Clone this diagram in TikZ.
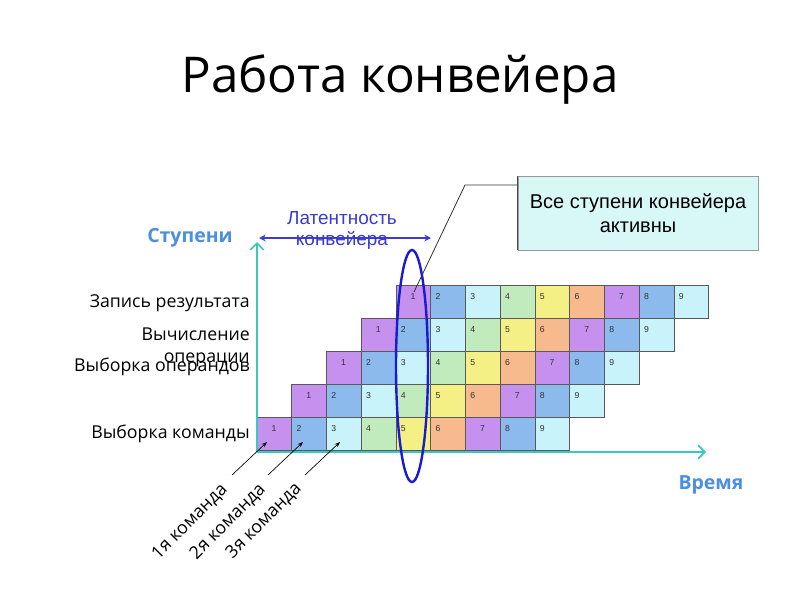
\documentclass[tikz,border=0pt]{standalone}
\usepackage{fontspec}
\setmainfont{Open Sans}
\newfontfamily\arialf{Liberation Sans}
\usetikzlibrary{arrows.meta,shapes.geometric}
\definecolor{k1}{HTML}{C590EE}
\definecolor{k2}{HTML}{8DBAEC}
\definecolor{k3}{HTML}{C9F3FA}
\definecolor{k4}{HTML}{C2EBBD}
\definecolor{k5}{HTML}{F5F085}
\definecolor{k6}{HTML}{F6BA8C}
\definecolor{k7}{HTML}{C590EE}
\definecolor{k8}{HTML}{8DBAEC}
\definecolor{k9}{HTML}{C9F3FA}
\definecolor{axisc}{HTML}{3CC8C0}
\definecolor{headc}{HTML}{4A8FE0}
\definecolor{latc}{HTML}{3B3BD0}
\definecolor{ellc}{HTML}{1A1AD0}
\definecolor{boxc}{HTML}{D8F7F7}
\tikzset{
  cell/.style={draw=black!65, line width=0.6pt, minimum width=26.06pt, minimum height=24.75pt, inner sep=0pt, outer sep=0pt},
  num/.style={font=\arialf\fontsize{6.5}{7}\selectfont, text=black!80, inner sep=0pt, anchor=base},
  stagelabel/.style={font=\fontsize{13.3}{14}\selectfont, anchor=base east, inner sep=0pt},
  axisline/.style={draw=axisc, line width=1.8pt, -{Straight Barb[length=5pt,width=10pt,line width=1.3pt]}},
  cmdarrow/.style={draw=black, line width=0.5pt, -{Stealth[length=4pt,width=3pt]}},
  cmdlabel/.style={font=\fontsize{13.3}{14}\selectfont, rotate=45, inner sep=0pt},
  axislabel/.style={font=\bfseries\fontsize{14.6}{15}\selectfont, text=headc, inner sep=0pt},
}
\begin{document}
\begin{tikzpicture}[x=0.75pt,y=-0.75pt]
\useasboundingbox (0,0) rectangle (800,600);
\fill[white] (0,0) rectangle (800,600);

% title
\node[font=\fontsize{37}{40}\selectfont, anchor=base, inner sep=0pt] (title) at (400,92) {Работа конвейера};

% grid
\foreach \r in {0,...,4}{
  \foreach \c in {0,...,8}{
    \pgfmathsetmacro{\k}{int(\c+1)}
    \pgfmathsetmacro{\cx}{257+(\r+\c)*34.75+17.375}
    \pgfmathsetmacro{\cy}{433.5-\r*33}
    \node[cell, fill=k\k] (r\r c\c) at (\cx,\cy) {};
    \ifnum\k=1
      \node[num] at ([xshift=12.75pt,yshift=-10.5pt]r\r c\c.north west) {\k};
    \else\ifnum\k=7
      \node[num] at ([xshift=12.75pt,yshift=-10.5pt]r\r c\c.north west) {\k};
    \else
      \node[num] at ([xshift=5.5pt,yshift=-10.5pt]r\r c\c.north west) {\k};
    \fi\fi
  }
}

% axes
\coordinate (origin) at (257,452);
\coordinate (yend) at (257,242);
\coordinate (xend) at (706,452);
\draw[axisline] (origin) -- (yend);
\draw[axisline] (origin) -- (xend);
\node[axislabel] (stup) at (190,238) {Ступени};
\node[axislabel] (vrem) at (711,485) {Время};

% stage labels
\node[stagelabel] (l4) at (250,307) {Запись результата};
\node[stagelabel] (l3a) at (250,340) {Вычисление};
\node[stagelabel] (l3b) at (250,362) {операции};
\node[stagelabel] (l2) at (250,371) {Выборка операндов};
\node[stagelabel] (l0) at (250,438) {Выборка команды};

% latency
\coordinate (latL) at (259,238);
\coordinate (latR) at (431,238);
\draw[draw=latc, line width=0.9pt, {Stealth[length=5pt,width=5pt]}-{Stealth[length=5pt,width=5pt]}] (latL) -- (latR);
\node[font=\arialf\fontsize{14.2}{15.75}\selectfont, text=latc, align=center, inner sep=0pt] (lat) at (342,230) {Латентность\\конвейера};

% ellipse
\node[ellipse, draw=ellc, line width=1.8pt, minimum width=24pt, minimum height=174pt, inner sep=0pt] (ell) at (412,366) {};

% callout
\node[draw=black!40, fill=boxc, minimum width=180pt, minimum height=55.5pt, align=center, font=\arialf\fontsize{15}{18}\selectfont, inner sep=0pt] (callout) at (638,213) {Все ступени конвейера\\активны};
\draw[black!70, line width=1pt] (callout.north west) -- (callout.south west);
\coordinate (knee) at (465,185);
\coordinate (ctip) at (414,292);
\draw[black!80, line width=0.6pt] (ctip) -- (knee) -- (callout.west |- knee);

% command arrows
\coordinate (t1) at (232,475);
\coordinate (t2) at (268,475);
\coordinate (t3) at (305,475);
\coordinate (h1) at (267,442);
\coordinate (h2) at (303,442);
\coordinate (h3) at (340,442);
\draw[cmdarrow] (t1) -- (h1);
\draw[cmdarrow] (t2) -- (h2);
\draw[cmdarrow] (t3) -- (h3);
\node[cmdlabel] (cm1) at (190,522) {1я команда};
\node[cmdlabel] (cm2) at (228,522) {2я команда};
\node[cmdlabel] (cm3) at (264,521) {3я команда};
\end{tikzpicture}
\end{document}
